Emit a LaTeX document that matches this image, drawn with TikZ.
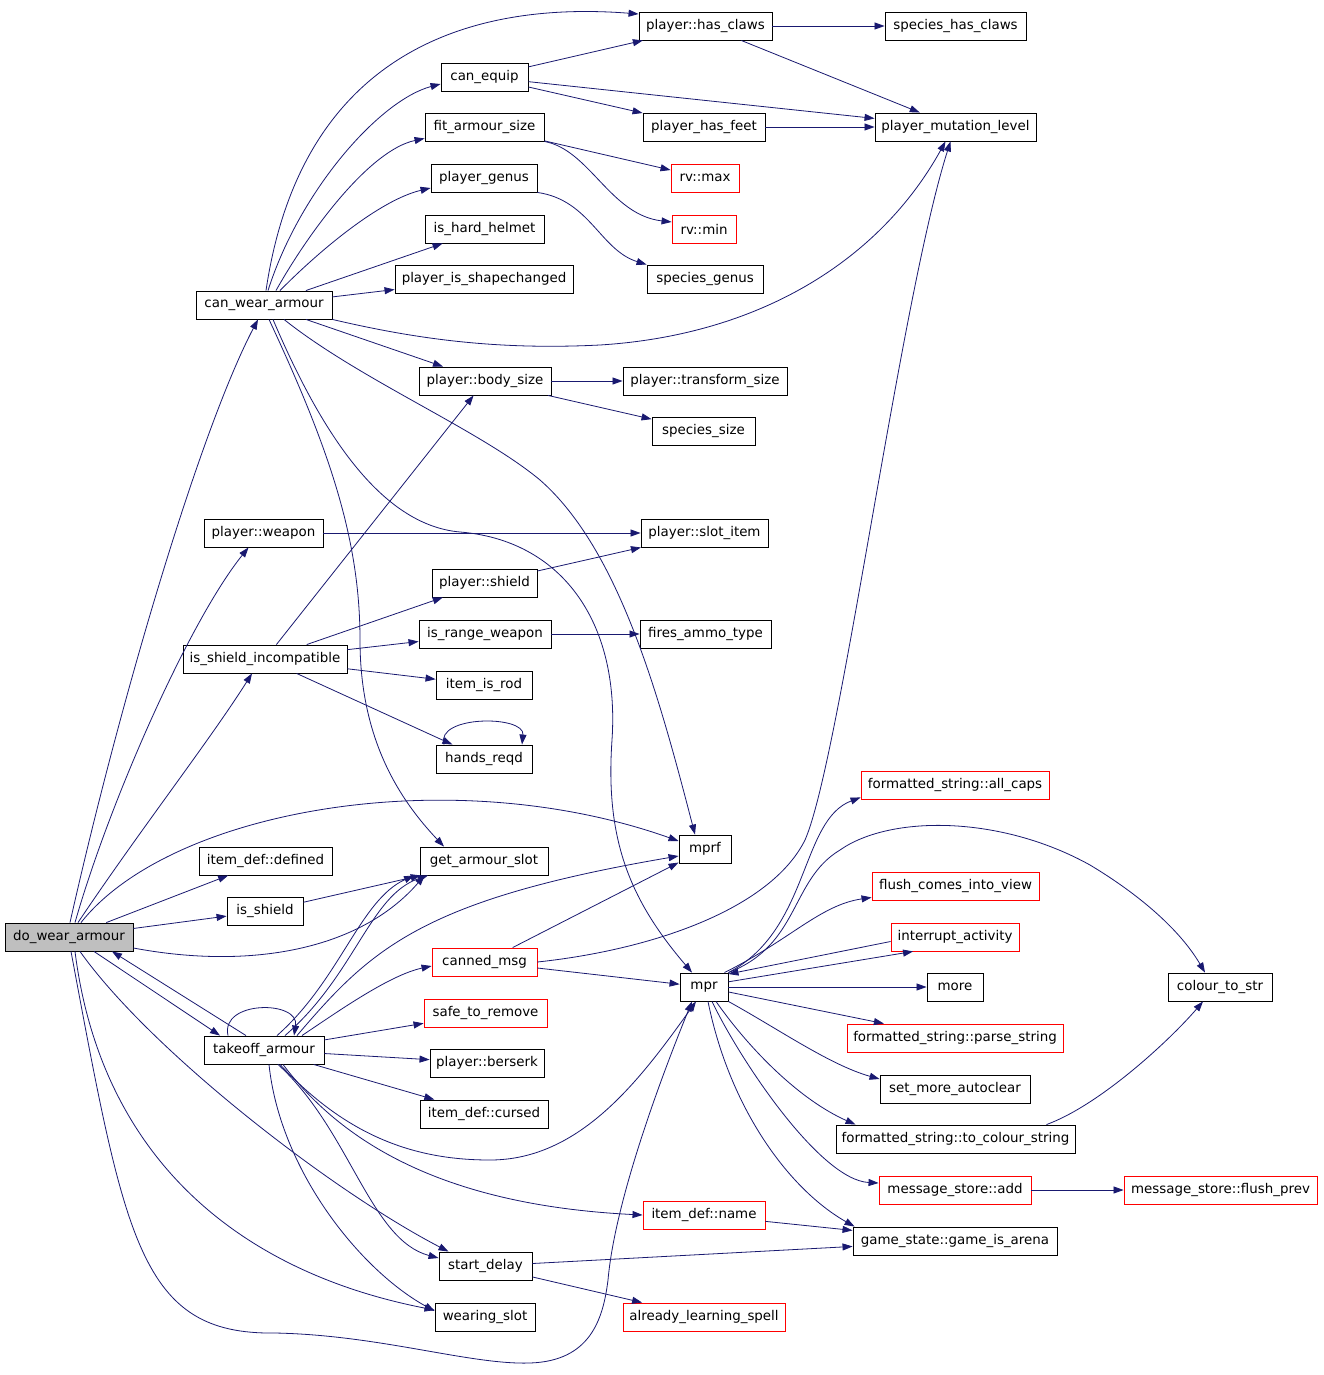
\documentclass[tikz,border=0pt]{standalone}
\usepackage{fontspec}
\setmainfont{DejaVu Sans}
\usetikzlibrary{arrows.meta,
                graphs}
\definecolor{callblue}{HTML}{191970}
\definecolor{rootgray}{HTML}{BFBFBF}
\newcommand{\fnfont}{\fontsize{13.4}{15}\selectfont}
\tikzset{fn/.style={draw=black, line width=0.9pt, rectangle, fill=white,
                    minimum width=#1pt, minimum height=28pt, inner sep=0pt,
                    font=\fnfont, text=black},
         extfn/.style={fn=#1, draw=red},
         rootfn/.style={fn=#1, fill=rootgray},
         call/.style={->, draw=callblue, line width=0.8pt}}

\begin{document}
\begin{tikzpicture}[x=1pt, y=-1pt, >={Triangle[length=10pt,width=7pt]}]
 \path[use as bounding box, fill=white] (0,0) rectangle (1323,1375);
 \node[rootfn=128] (dwa) at (69,937) {do\_wear\_armour};
 \node[fn=136] (cwa) at (264,305) {can\_wear\_armour};
 \node[fn=133] (phc) at (705.5,26) {player::has\_claws};
 \node[fn=141] (shc) at (955.5,26) {species\_has\_claws};
 \node[fn=87] (ceq) at (484.5,77) {can\_equip};
 \node[fn=161] (pml) at (955.5,127) {player\_mutation\_level};
 \node[fn=122] (phf) at (704,127) {player\_has\_feet};
 \node[fn=119] (fas) at (484.5,127) {fit\_armour\_size};
 \node[extfn=68] (rvmax) at (705,178) {rv::max};
 \node[fn=106] (pge) at (484,178) {player\_genus};
 \node[extfn=64] (rvmin) at (704,229) {rv::min};
 \node[fn=119] (ihh) at (484.5,229) {is\_hard\_helmet};
 \node[fn=116] (sge) at (705,279) {species\_genus};
 \node[fn=178] (pis) at (484,279) {player\_is\_shapechanged};
 \node[fn=132] (pbs) at (485,381) {player::body\_size};
 \node[fn=164] (pts) at (705,381) {player::transform\_size};
 \node[fn=103] (ssz) at (703.5,431) {species\_size};
 \node[fn=119] (pwe) at (263.5,533) {player::weapon};
 \node[fn=127] (psi) at (704.5,533) {player::slot\_item};
 \node[fn=105] (psh) at (484.5,583) {player::shield};
 \node[fn=132] (irw) at (485,634) {is\_range\_weapon};
 \node[fn=131] (fat) at (705.5,634) {fires\_ammo\_type};
 \node[fn=164] (isi) at (265,659) {is\_shield\_incompatible};
 \node[fn=96] (iir) at (484,685) {item\_is\_rod};
 \node[fn=96] (hrq) at (484,759) {hands\_reqd};
 \node[extfn=188] (fsac) at (955,785) {formatted\_string::all\_caps};
 \node[fn=52] (mprf) at (705,849) {mprf};
 \node[fn=133] (idd) at (265.5,861) {item\_def::defined};
 \node[fn=128] (gas) at (484,861) {get\_armour\_slot};
 \node[extfn=167] (fciv) at (955.5,886) {flush\_comes\_into\_view};
 \node[fn=76] (ish) at (265,911) {is\_shield};
 \node[extfn=128] (iac) at (955,937) {interrupt\_activity};
 \node[extfn=105] (cmsg) at (484.5,962) {canned\_msg};
 \node[fn=48] (mpr) at (704,987) {mpr};
 \node[fn=56] (more) at (955,987) {more};
 \node[fn=104] (cts) at (1220,987) {colour\_to\_str};
 \node[extfn=123] (str) at (485.5,1013) {safe\_to\_remove};
 \node[extfn=216] (fsps) at (955,1038) {formatted\_string::parse\_string};
 \node[fn=120] (toa) at (264,1050) {takeoff\_armour};
 \node[fn=114] (pbk) at (487,1063) {player::berserk};
 \node[fn=150] (sma) at (955,1089) {set\_more\_autoclear};
 \node[fn=128] (idc) at (484,1114) {item\_def::cursed};
 \node[fn=239] (fstcs) at (955.5,1139) {formatted\_string::to\_colour\_string};
 \node[extfn=152] (msa) at (955,1190) {message\_store::add};
 \node[extfn=193] (msfp) at (1220.5,1190) {message\_store::flush\_prev};
 \node[extfn=122] (idn) at (704,1215) {item\_def::name};
 \node[fn=204] (gia) at (955,1241) {game\_state::game\_is\_arena};
 \node[fn=93] (sdl) at (485.5,1266) {start\_delay};
 \node[extfn=162] (als) at (704,1317) {already\_learning\_spell};
 \node[fn=100] (wsl) at (485,1317) {wearing\_slot};

 \graph [use existing nodes, edges={call}]
   {
     dwa -> {idd, ish};
     cwa -> {ihh, pis, pbs};
     ceq -> {phc, phf, pml};
     phc -> {shc, pml};
     phf -> pml;
     fas -> rvmax;
     pbs -> {pts, ssz};
     pwe -> psi;
     psh -> psi;
     isi -> {pbs, psh, irw, iir, hrq};
     irw -> fat;
     ish -> gas;
     cmsg -> {mprf, mpr};
     toa -> {str, pbk, idc};
     mpr -> {more, fsps};
     msa -> msfp;
     idn -> gia;
     sdl -> {gia, als};
   };

 \draw[call] ([xshift=1pt]dwa.north) .. controls (120,700) and (200,430) .. ([xshift=-6pt]cwa.south);
 \draw[call] ([xshift=6pt]dwa.north) .. controls (110,800) and (190,620) .. ([xshift=-15pt]pwe.south);
 \draw[call] ([xshift=9pt]dwa.north) .. controls (140,830) and (210,740) .. ([xshift=-13pt]isi.south);
 \draw[call] ([xshift=12pt]dwa.north) .. controls (170,810) and (450,760) .. ([yshift=8pt]mprf.west);
 \draw[call] ([yshift=-11pt]dwa.east) .. controls (250,970) and (360,950) .. ([xshift=5pt]gas.south west);
 \draw[call] ([xshift=25pt]dwa.south) -- ([xshift=-44pt]toa.north);
 \draw[call] ([xshift=-18pt]toa.north) -- ([xshift=43pt]dwa.south);
 \draw[call] ([xshift=11pt]dwa.south) .. controls (150,1050) and (330,1190) .. ([xshift=-37pt]sdl.north);
 \draw[call] ([xshift=6pt]dwa.south) .. controls (100,1150) and (230,1270) .. ([yshift=7pt]wsl.west);
 \draw[call] ([xshift=2pt]dwa.south) .. controls (125,1240) and (140,1335) .. (275,1333)
   .. controls (380,1335) and (470,1365) .. (530,1363)
   .. controls (590,1361) and (603,1320) .. (608,1280)
   .. controls (615,1200) and (662,1075) .. ([xshift=-12pt]mpr.south);

 \draw[call] ([xshift=2pt]cwa.north) .. controls (300,60) and (460,0) .. ([yshift=12pt]phc.west);
 \draw[call] ([xshift=4pt]cwa.north) .. controls (300,190) and (380,100) .. ([yshift=-7pt]ceq.west);
 \draw[call] ([xshift=12pt]cwa.north) .. controls (310,230) and (370,150) .. ([yshift=3pt]fas.south west);
 \draw[call] ([xshift=16pt]cwa.north) .. controls (320,250) and (380,200) .. ([yshift=-10pt]pge.west);
 \draw[call] (cwa.south east) .. controls (420,340) and (500,350) .. (600,345)
   .. controls (760,335) and (880,260) .. ([xshift=-10pt]pml.south);
 \draw[call] ([xshift=20pt]cwa.south) .. controls (360,380) and (480,430) .. (540,480)
   .. controls (620,550) and (660,700) .. ([xshift=-10pt]mprf.north);
 \draw[call] ([xshift=9pt]cwa.south) .. controls (320,430) and (380,525) .. (460,532)
   .. controls (560,540) and (620,620) .. (612,740)
   .. controls (605,840) and (630,900) .. ([xshift=-12pt]mpr.north);
 \draw[call] ([xshift=5pt]cwa.south) .. controls (330,450) and (360,540) .. (360,640)
   .. controls (360,740) and (400,800) .. ([xshift=-40pt]gas.north);

 \draw[call] (fas.south east) .. controls (590,150) and (610,215) .. ([yshift=7pt]rvmin.west);
 \draw[call] (pge.south east) .. controls (590,200) and (600,250) .. (sge.north west);
 \draw[call] ([xshift=-40pt]hrq.north) .. controls (435,715) and (525,715) .. ([xshift=38pt]hrq.north);

 \draw[call] ([xshift=-36pt]toa.north) .. controls (220,1000) and (300,1000) .. ([xshift=30pt]toa.north);
 \draw[call] ([xshift=13pt]toa.north) .. controls (340,980) and (360,900) .. ([xshift=-70pt]gas.south);
 \draw[call] ([xshift=21pt]toa.north) .. controls (355,975) and (370,895) .. ([xshift=-56pt]gas.south);
 \draw[call] ([xshift=33pt]toa.north) .. controls (370,950) and (420,900) .. ([yshift=-7pt]mprf.west);
 \draw[call] ([xshift=38pt]toa.north) .. controls (340,1010) and (390,975) .. ([yshift=-4pt]cmsg.west);
 \draw[call] ([xshift=16pt]toa.south) .. controls (350,1140) and (420,1160) .. (490,1160)
   .. controls (580,1160) and (640,1080) .. ([xshift=-8pt]mpr.south);
 \draw[call] ([xshift=19pt]toa.south) .. controls (340,1140) and (440,1205) .. (idn.west);
 \draw[call] ([xshift=14pt]toa.south) .. controls (350,1130) and (370,1240) .. ([yshift=8pt]sdl.west);
 \draw[call] ([xshift=5pt]toa.south) .. controls (280,1170) and (360,1270) .. ([yshift=6pt]wsl.west);

 \draw[call] (cmsg.east) .. controls (650,950) and (770,910) .. (805,840)
   .. controls (840,760) and (900,300) .. ([xshift=-5pt]pml.south);

 \draw[call] (mpr.north east) .. controls (810,930) and (800,820) .. ([yshift=2pt]fsac.south west);
 \draw[call] (mpr.north east) .. controls (800,945) and (790,880) .. (840,850)
   .. controls (890,815) and (1000,815) .. (1090,865)
   .. controls (1140,895) and (1180,930) .. ([xshift=-15pt]cts.north);
 \draw[call] ([xshift=-4pt]mpr.north east) .. controls (790,940) and (820,905) .. ([yshift=3pt]fciv.south west);
 \draw[call] (iac.184) -- (mpr.28);
 \draw[call] (mpr.12) -- (iac.199);
 \draw[call] (mpr.south east) .. controls (780,1030) and (830,1065) .. ([yshift=10pt]sma.west);
 \draw[call] ([xshift=12pt]mpr.south) .. controls (750,1050) and (800,1100) .. ([xshift=-100pt]fstcs.north);
 \draw[call] ([xshift=8pt]mpr.south) .. controls (740,1060) and (820,1180) .. ([yshift=7pt]msa.west);
 \draw[call] ([xshift=4pt]mpr.south) .. controls (730,1110) and (790,1190) .. ([xshift=2pt]gia.north west);
 \draw[call] ([xshift=91pt]fstcs.north) .. controls (1100,1105) and (1170,1040) .. ([xshift=-17pt]cts.south);
\end{tikzpicture}
\end{document}
